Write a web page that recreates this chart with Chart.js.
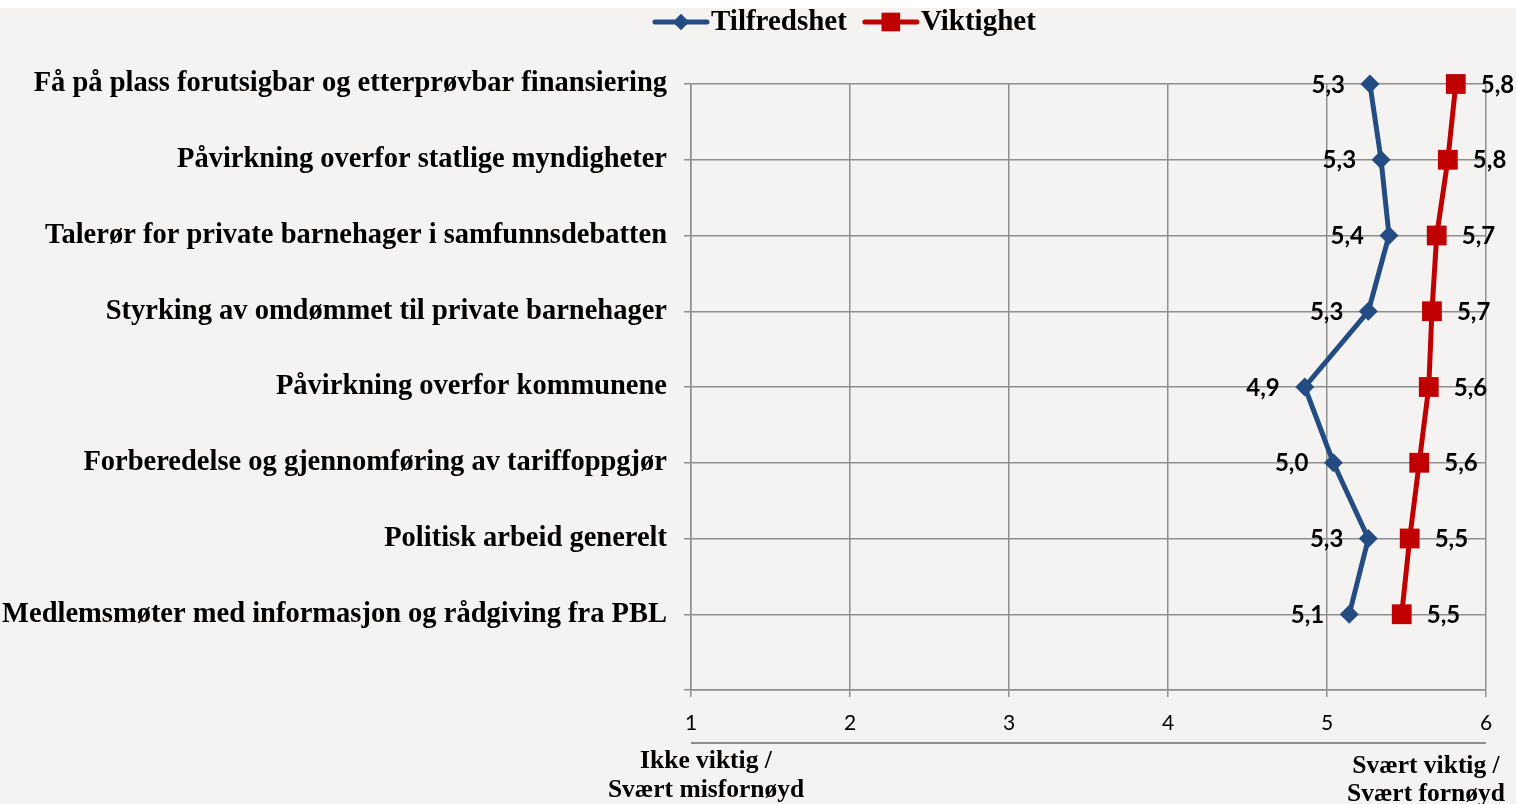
<!DOCTYPE html>
<html>
<head>
<meta charset="utf-8">
<script src="https://cdn.jsdelivr.net/npm/chart.js@4.4.1/dist/chart.umd.min.js"></script>
<style>
  html, body { margin: 0; padding: 0; background: #fff; }
</style>
</head>
<body>
<canvas id="prioriteringChart" width="1516" height="804"></canvas>
<script>
// Kategorier (ovenfra og ned)
const categories = [
    "Få på plass forutsigbar og etterprøvbar finansiering",
    "Påvirkning overfor statlige myndigheter",
    "Talerør for private barnehager i samfunnsdebatten",
    "Styrking av omdømmet til private barnehager",
    "Påvirkning overfor kommunene",
    "Forberedelse og gjennomføring av tariffoppgjør",
    "Politisk arbeid generelt",
    "Medlemsmøter med informasjon og rådgiving fra PBL"
];
const tilfredshet = [5.27, 5.34, 5.39, 5.26, 4.86, 5.04, 5.26, 5.14];
const viktighet = [5.81, 5.76, 5.69, 5.66, 5.64, 5.58, 5.52, 5.47];
const xTicks = [1, 2, 3, 4, 5, 6];
const leftNote = ["Ikke viktig /", "Svært misfornøyd"];
const rightNote = ["Svært viktig /", "Svært fornøyd"];

const BLUE = '#234c82';
const RED = '#c00000';
const GRID = '#8f8f8f';
const SERIF = '"Liberation Serif", serif';
const SANS = 'Lato, "Liberation Sans", sans-serif';

const fmt = v => (Math.round(v * 10) / 10).toFixed(1).replace('.', ',');

// Bakgrunn, legend, dataetiketter og tekst under aksen
const extras = {
    id: 'extras',
    beforeDraw(chart) {
        const ctx = chart.ctx;
        ctx.save();
        ctx.fillStyle = '#fff';
        ctx.fillRect(0, 0, chart.width, chart.height);
        ctx.fillStyle = '#f4f3f1';
        ctx.fillRect(0, 8, chart.width, chart.height - 8);
        ctx.restore();
    },
    afterDatasetsDraw(chart) {
        const ctx = chart.ctx;
        const area = chart.chartArea;
        ctx.save();

        // dataetiketter
        ctx.font = 'bold 24px ' + SANS;
        ctx.fillStyle = '#000';
        ctx.textBaseline = 'middle';
        chart.data.datasets.forEach((ds, i) => {
            chart.getDatasetMeta(i).data.forEach((pt, j) => {
                ctx.textAlign = i === 0 ? 'right' : 'left';
                const dx = i === 0 ? -25 : 25;
                ctx.fillText(fmt(ds.data[j]), pt.x + dx, pt.y + 1);
            });
        });

        // legend (litt til høyre for midten, som i originalen)
        ctx.font = 'bold 29px ' + SERIF;
        let x = 655;
        const ly = 22;
        chart.data.datasets.forEach(ds => {
            ctx.strokeStyle = ds.borderColor;
            ctx.lineWidth = 5;
            ctx.lineCap = 'round';
            ctx.beginPath();
            ctx.moveTo(x, ly);
            ctx.lineTo(x + 52, ly);
            ctx.stroke();
            ctx.fillStyle = ds.borderColor;
            Chart.helpers.drawPoint(ctx, {pointStyle: ds.pointStyle, radius: ds.pointStyle === 'rect' ? 13 : 8, rotation: 0, borderWidth: 0}, x + 26, ly);
            ctx.fill();
            ctx.fillStyle = '#000';
            ctx.textAlign = 'left';
            ctx.textBaseline = 'middle';
            ctx.fillText(ds.label, x + 56, ly + 1);
            x += 56 + ctx.measureText(ds.label).width + 18;
        });

        // linje og tekst under x-aksen
        ctx.strokeStyle = GRID;
        ctx.lineWidth = 2;
        ctx.lineCap = 'butt';
        ctx.beginPath();
        ctx.moveTo(area.left, 743);
        ctx.lineTo(area.right, 743);
        ctx.stroke();

        ctx.font = 'bold 25.5px ' + SERIF;
        ctx.fillStyle = '#000';
        ctx.textAlign = 'center';
        ctx.textBaseline = 'middle';
        ctx.fillText(leftNote[0], area.left + 15, 761);
        ctx.fillText(leftNote[1], area.left + 15, 790);
        ctx.fillText(rightNote[0], area.right - 60, 766);
        ctx.fillText(rightNote[1], area.right - 60, 794);
        ctx.restore();
    }
};

const config = {
    type: 'line',
    data: {
        labels: categories,
        datasets: [{
            label: 'Tilfredshet',
            data: tilfredshet,
            borderColor: BLUE,
            backgroundColor: BLUE,
            borderWidth: 5,
            pointStyle: 'rectRot',
            pointRadius: 9.5,
            pointBorderWidth: 0,
            pointBackgroundColor: BLUE,
            tension: 0,
            clip: false
        }, {
            label: 'Viktighet',
            data: viktighet,
            borderColor: RED,
            backgroundColor: RED,
            borderWidth: 5,
            pointStyle: 'rect',
            pointRadius: 14,
            pointBorderWidth: 0,
            pointBackgroundColor: RED,
            tension: 0,
            clip: false
        }]
    },
    options: {
        indexAxis: 'y',
        responsive: false,
        animation: false,
        devicePixelRatio: 1,
        layout: { padding: { top: 84, right: 30, left: 0, bottom: 0 } },
        plugins: {
            legend: { display: false },
            tooltip: { enabled: false }
        },
        scales: {
            y: {
                type: 'category',
                labels: [...categories, ''],
                offset: false,
                afterFit: s => { s.width = 691; },
                grid: { color: GRID, lineWidth: 1.5, tickLength: 7 },
                border: { color: GRID, width: 1.5 },
                ticks: {
                    padding: 17,
                    color: '#000',
                    font: { family: SERIF, size: 28.5, weight: 'bold' }
                }
            },
            x: {
                type: 'linear',
                min: xTicks[0],
                max: xTicks[xTicks.length - 1],
                afterFit: s => { s.height = 114; },
                afterBuildTicks: s => { s.ticks = xTicks.map(v => ({ value: v })); },
                grid: { color: GRID, lineWidth: 1.5, tickLength: 7 },
                border: { color: GRID, width: 1.5 },
                ticks: {
                    padding: 14,
                    color: '#000',
                    font: { family: SANS, size: 21 }
                }
            }
        }
    },
    plugins: [extras]
};

const prioriteringChart = new Chart(document.getElementById('prioriteringChart'), config);
</script>
</body>
</html>
